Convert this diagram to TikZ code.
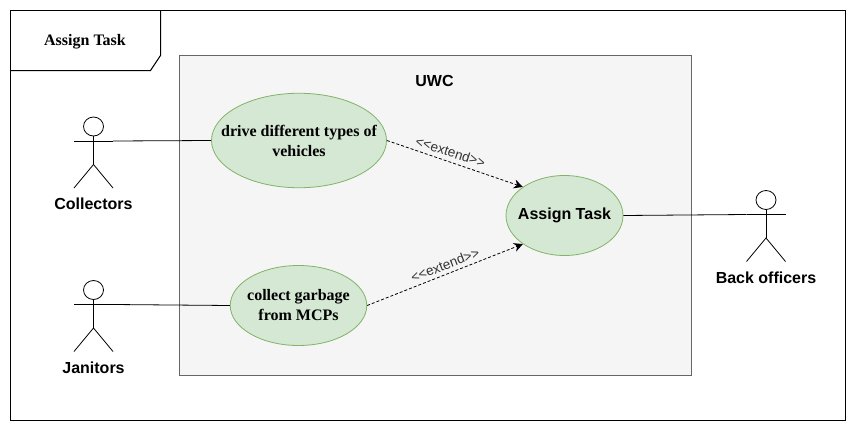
\documentclass[tikz,border=0pt]{standalone}
\usepackage{fontspec}
\setmainfont{Liberation Serif}
\setsansfont{Liberation Sans}
\newfontfamily\extendfont{Liberation Sans}
\usetikzlibrary{shapes.geometric}
\usetikzlibrary{arrows.meta}
\definecolor{usecasefill}{HTML}{D5E8D4}
\definecolor{usecaseline}{HTML}{82B366}
\definecolor{boxfill}{HTML}{F5F5F5}
\definecolor{boxline}{HTML}{666666}
\definecolor{extendtext}{HTML}{333333}
\tikzset{
usecase/.style={ellipse,draw=usecaseline,fill=usecasefill,line width=0.8pt,inner sep=-20pt,align=center},
sanslabel/.style={font=\sffamily\bfseries\fontsize{16}{18}\selectfont},
seriflabel/.style={font=\rmfamily\bfseries\fontsize{16}{20}\selectfont,align=center},
extendlabel/.style={font=\extendfont\fontsize{13.5}{15}\selectfont,text=extendtext,inner sep=0pt},
extendline/.style={densely dashed,line width=0.8pt,-{Stealth[length=9pt,width=9pt]}}
}
\begin{document}
\begin{tikzpicture}[x=1pt,y=-1pt,line width=0.8pt]
\useasboundingbox (0,0) rectangle (856,431);
% frame and tab
\draw[line width=1pt] (10.5,10.5) rectangle (845.5,420);
\draw[line width=1pt] (160.5,10.5) -- (160.5,55.5) -- (150.5,70.5) -- (10.5,70.5);
\node[seriflabel] (tabtitle) at (85,42) {Assign Task};
% system box
\draw[draw=boxline,fill=boxfill,line width=1pt] (179.5,55.5) rectangle (691.5,375.5);
\node[sanslabel] (uwc) at (434.5,80.5) {UWC};
% use cases
\node[usecase,seriflabel,minimum width=175pt,minimum height=94.5pt] (drive) at (299,140.5) {drive different types of\\vehicles};
\node[usecase,seriflabel,minimum width=136.5pt,minimum height=80pt] (collect) at (298.5,305.5) {collect garbage\\from MCPs};
\node[usecase,sanslabel,minimum width=117pt,minimum height=80pt] (assign) at (564.5,215.5) {\raisebox{-1.5pt}{Assign Task}};
% actors
\foreach \name/\x/\y/\txt/\ty in {collectors/93.5/141/Collectors/203.5,janitors/93.5/304.5/Janitors/367.5,officers/766/214.5/Back officers/277.5} {
\draw (\x,\y-14.5) ellipse (10pt and 9.5pt);
\draw (\x,\y-5) -- (\x,\y+23.5);
\draw (\x-19.5,\y) -- (\x+19.5,\y);
\draw (\x-19.5,\y+47) -- (\x,\y+23.5) -- (\x+19.5,\y+47);
\coordinate (\name-l) at (\x-19.5,\y);
\coordinate (\name-r) at (\x+19.5,\y);
\node[sanslabel] (\name) at (\x,\ty) {\txt};
}
% connectors
\draw (collectors-r) -- (drive.west);
\draw (janitors-r) -- (collect.west);
\draw (assign.east) -- (officers-l);
\draw[extendline] (drive.east) -- (assign.north west);
\draw[extendline] (collect.east) -- (assign.south west);
\node[extendlabel,rotate=-18] (extendtop) at (450.5,152) {<<extend>>};
\node[extendlabel,rotate=21] (extendbottom) at (445,265) {<<extend>>};
\end{tikzpicture}
\end{document}
